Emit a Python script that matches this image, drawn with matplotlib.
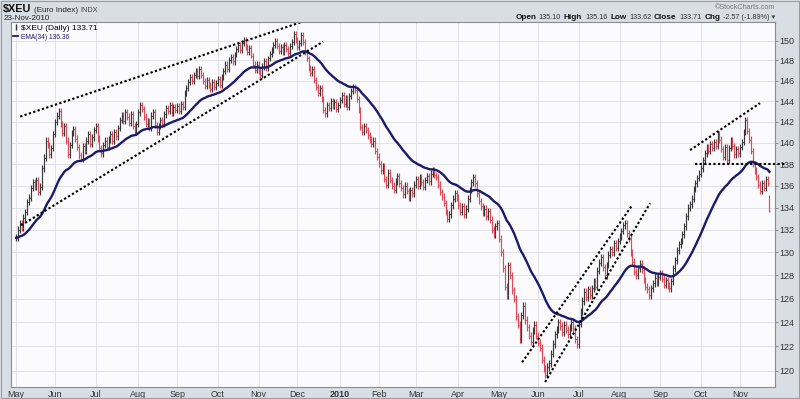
import matplotlib
matplotlib.use('Agg')
import matplotlib.pyplot as plt
from matplotlib.lines import Line2D
from matplotlib.offsetbox import TextArea, HPacker, AnchoredOffsetbox
from matplotlib.patches import Rectangle
from matplotlib.ticker import NullLocator
import numpy as np
import pandas as pd

plt.rcParams['font.family'] = ['Liberation Sans', 'DejaVu Sans']

# daily closes, one row per month
close_2009 = [
    131.3, 132.0, 132.6, 132.2, 133.1, 133.6, 134.5, 134.9, 135.8, 136.3, 135.9, 136.5, 135.4, 135.9, 137.6, 138.6, 140.2, 139.8, 138.9, 139.5, 140.8,
    142.0, 142.6, 143.0, 141.8, 140.9, 141.6, 140.2, 138.9, 139.8, 140.9, 141.3, 140.4, 139.6, 138.8, 138.5, 139.7, 139.2, 140.2, 140.8, 139.9, 140.5, 141.2,
    141.6, 140.4, 139.5, 139.0, 139.8, 140.2, 139.6, 140.3, 140.8, 140.2, 141.0, 140.6, 141.4, 142.2, 142.6, 142.1, 142.9, 142.5, 141.9, 142.7, 141.6, 141.0, 141.8,
    142.9, 143.6, 143.2, 142.5, 141.8, 142.1, 141.4, 142.6, 142.9, 141.7, 141.0, 141.6, 142.2, 141.8, 142.7, 143.3, 143.0, 143.6, 142.9, 143.4, 143.1,
    143.5, 143.0, 143.7, 143.4, 144.8, 145.3, 145.9, 146.4, 146.0, 146.6, 147.0, 146.5, 147.2, 146.6, 146.0, 145.5, 146.1, 145.6, 145.2, 145.9, 145.4, 145.8,
    146.2, 145.6, 146.4, 147.0, 147.6, 147.2, 148.0, 148.4, 147.9, 148.6, 149.2, 149.6, 149.1, 149.8, 150.1, 149.4, 148.9, 149.3, 148.5, 147.6, 147.1, 147.6,
    147.0, 146.6, 147.4, 147.9, 147.3, 148.2, 148.7, 149.1, 149.6, 150.0, 149.5, 149.0, 149.4, 148.9, 149.6, 149.2, 148.8, 149.5, 149.9, 150.7, 150.1,
    149.4, 149.8, 150.6, 149.9, 148.9, 148.2, 147.3, 146.8, 147.2, 146.1, 145.4, 144.8, 145.3, 144.2, 143.1, 142.8, 143.6, 143.3, 144.0, 143.5, 143.9, 143.2, 143.6,
]
close_2010 = [
    144.1, 144.6, 143.7, 144.3, 143.4, 144.5, 145.0, 145.4, 145.1, 144.2, 143.1, 141.5, 141.0, 141.6, 141.2, 140.7, 140.3, 139.9, 140.2, 139.2, 138.7,
    138.0, 137.4, 137.8, 136.6, 136.1, 137.2, 136.5, 136.0, 135.6, 136.4, 136.9, 136.2, 135.8, 135.2, 136.0, 135.5, 134.9, 135.6, 135.3, 136.1,
    136.6, 136.0, 136.8, 136.3, 135.9, 136.5, 136.9, 136.4, 137.1, 137.4, 137.0, 136.8, 136.1, 135.4, 135.0, 134.4, 133.6, 133.0, 133.4, 134.2, 134.8, 135.3, 134.9,
    134.2, 133.6, 134.1, 133.4, 133.9, 134.8, 135.6, 136.3, 136.8, 136.2, 135.3, 134.6, 134.1, 133.5, 133.9, 133.2, 133.7, 132.9, 132.0, 131.6, 132.3, 132.6,
    131.2, 130.0, 128.6, 127.0, 126.3, 128.9, 128.0, 126.7, 126.0, 124.5, 123.8, 122.6, 124.6, 125.4, 124.2, 123.6, 122.9, 122.4, 123.3, 123.8, 122.9,
    122.3, 121.9, 120.9, 120.2, 119.7, 120.3, 120.6, 121.4, 122.2, 123.0, 123.4, 124.0, 123.7, 123.2, 123.8, 123.4, 123.0, 123.6, 124.0, 123.5, 122.6, 122.2,
    123.9, 124.9, 125.8, 126.6, 126.1, 126.8, 126.3, 126.9, 127.5, 127.0, 128.4, 129.1, 129.6, 128.7, 128.0, 128.9, 129.8, 130.3, 130.0, 130.8, 130.4, 131.0,
    131.4, 131.9, 132.4, 132.6, 131.7, 131.2, 130.0, 129.2, 128.3, 128.0, 128.6, 129.0, 128.5, 127.6, 127.0, 126.8, 126.3, 126.9, 127.3, 127.8, 127.4, 127.9,
    128.2, 127.7, 127.2, 127.6, 127.1, 126.9, 127.5, 128.6, 129.3, 130.2, 130.7, 131.0, 131.6, 132.3, 133.2, 134.0, 134.3, 134.8, 135.7, 136.2, 136.7, 137.1,
    137.6, 138.4, 139.0, 139.6, 139.2, 139.9, 139.5, 140.1, 139.7, 140.8, 140.3, 139.4, 138.7, 139.6, 138.4, 139.5, 140.2, 139.7, 138.9, 139.4, 139.0,
    139.6, 140.1, 141.0, 142.2, 141.1, 140.3, 139.2, 138.0, 137.4, 136.8, 136.1, 135.5, 136.2, 135.8, 136.6, 136.28, 133.71,
]

# last bar from the header
last_open, last_high, last_low, last_close = 135.10, 135.16, 133.62, 133.71
last_chg, last_pct = -2.57, -1.89
last_ema = 136.36
wick = 0.3

# hand-drawn trend lines: (bar index, price)
trend_lines = [
    ([2.2, 160.5], [142.5, 152.3]),
    ([2.7, 165.9], [132.4, 149.9]),
    ([273.4, 332.8], [120.7, 134.2]),
    ([285.8, 342.5], [119.1, 134.4]),
    ([364.1, 401.9], [139.3, 143.8]),
]
resistance = ([366.8, 415.5], [138.0, 138.0])

y_ticks = list(range(120, 151, 2))

days = pd.bdate_range('2009-05-01', '2010-11-23')
close = np.array(close_2009 + close_2010)
n = len(close)
days = days[:n]
idx = np.arange(n)

opens = np.r_[close[0], close[:-1]]
opens[-1] = last_open
highs = np.maximum(opens, close) + wick
lows = np.minimum(opens, close) - wick
highs[-1], lows[-1] = last_high, last_low
ema = pd.Series(close).ewm(span=34, adjust=False).mean()

up_color = '#383838'
down_color = '#dc4a5a'
navy = '#1c1a6c'
colors = np.where(close >= opens, up_color, down_color)

fig = plt.figure(figsize=(8.0, 3.99), dpi=100, facecolor='#d9dde4')
ax = fig.add_axes([11 / 800, 1 - 387 / 399, 764 / 800, 365 / 399])
ax.set_facecolor('#fbfbfd')

ax.vlines(idx, lows, highs, colors=colors, lw=0.85)
ax.hlines(opens, idx - 0.5, idx, colors=colors, lw=0.85)
ax.hlines(close, idx, idx + 0.5, colors=colors, lw=0.85)
ax.plot(idx, ema, color=navy, lw=1.7)

for xs, ys in trend_lines:
    ax.plot(xs, ys, color='black', lw=1.5, linestyle=(0, (1.1, 1.1)))
ax.plot(resistance[0], resistance[1], color='black', lw=1.5,
        linestyle=(0, (1.1, 1.1)), clip_on=False)

ax.set_yscale('log')
ax.set_ylim(118.7, 151.9)
ax.set_xlim(-2.75, 410)
ax.yaxis.tick_right()
ax.set_yticks(y_ticks)
ax.set_yticklabels([str(v) for v in y_ticks])
ax.yaxis.set_minor_locator(NullLocator())
ax.tick_params(axis='y', labelsize=6.5, length=2, width=0.6, color='#777777',
               labelcolor='#333333', pad=1)

month_pos = [i for i in range(n) if i == 0 or days[i].month != days[i - 1].month]
month_lab = ['2010' if days[i].month == 1 else days[i].strftime('%b') for i in month_pos]
ax.set_xticks(month_pos)
ax.set_xticklabels(month_lab)
ax.tick_params(axis='x', labelsize=6.5, length=0, labelcolor='#333333', pad=2)
for lab in ax.get_xticklabels():
    if lab.get_text() == '2010':
        lab.set_fontweight('bold')

ax.grid(True, color='#dcdce3', lw=0.6)
ax.set_axisbelow(True)
for s in ax.spines.values():
    s.set_color('#8a8d94')
    s.set_linewidth(0.8)

handles = [Line2D([], [], color='#333333', lw=0, marker='|', markersize=5),
           Line2D([], [], color=navy, lw=1.3)]
leg = ax.legend(handles, ['$XEU (Daily) %.2f' % last_close, 'EMA(34) %.2f' % last_ema],
                loc='upper left', frameon=False, fontsize=6, handlelength=0.6,
                handletextpad=0.3, labelspacing=0.1, borderaxespad=0.15, borderpad=0.1)
leg.get_texts()[1].set_color(navy)
leg.get_texts()[1].set_fontsize(4.8)

# left header, baselines in pixels from the top
fig.text(3 / 800, 1 - 12 / 399, '$XEU', fontsize=7.8, weight='bold', color='#111111',
         va='baseline')
fig.text(34 / 800, 1 - 12 / 399, '(Euro Index)', fontsize=5.8, color='#222222',
         va='baseline')
fig.text(80 / 800, 1 - 12 / 399, 'INDX', fontsize=5.3, color='#444444', va='baseline')
fig.text(4 / 800, 1 - 20 / 399, '23-Nov-2010', fontsize=5.8, color='#222222',
         va='baseline')

# right header
bold, norm = 'bold', 'normal'
parts = [('Open', 5.9, bold, '#111111'), ('%.2f' % last_open, 5.2, norm, '#333333'),
         ('High', 5.9, bold, '#111111'), ('%.2f' % last_high, 5.2, norm, '#333333'),
         ('Low', 5.9, bold, '#111111'), ('%.2f' % last_low, 5.2, norm, '#333333'),
         ('Close', 5.9, bold, '#111111'), ('%.2f' % last_close, 5.2, norm, '#333333'),
         ('Chg', 5.9, bold, '#111111'),
         ('%.2f (%.2f%%) \u25be' % (last_chg, last_pct), 5.2, norm, '#333333')]
boxes = [TextArea(t, textprops=dict(size=s, weight=w, color=c)) for t, s, w, c in parts]
row = HPacker(children=boxes, align='baseline', pad=0, sep=2)
fig.add_artist(AnchoredOffsetbox(loc='upper right', child=row, pad=0, borderpad=0,
                                 frameon=False, bbox_to_anchor=(0.969, 0.966),
                                 bbox_transform=fig.transFigure))
fig.text(0.969, 0.99, '\u00a9StockCharts.com', fontsize=5.2, color='#777777',
         ha='right', va='top')

fig.add_artist(Rectangle((0.001, 0.002), 0.998, 0.996, transform=fig.transFigure,
                         fill=False, edgecolor='#9a9ca3', lw=0.8))

fig.savefig('out.png', dpi=100, facecolor=fig.get_facecolor())
